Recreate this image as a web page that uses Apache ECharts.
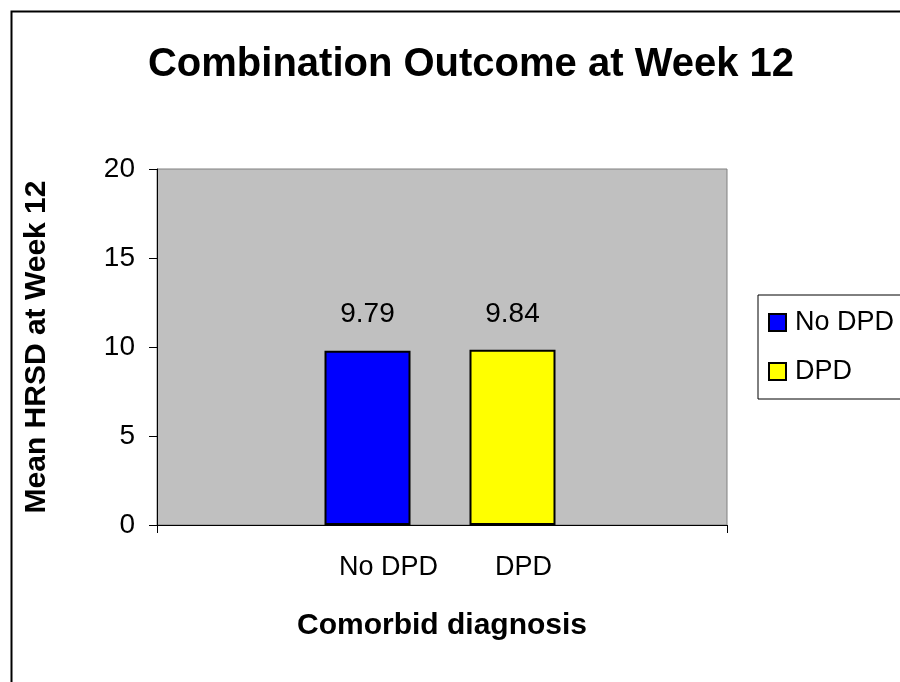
<!DOCTYPE html>
<html>
<head>
<meta charset="utf-8">
<script src="https://cdn.jsdelivr.net/npm/echarts@6/dist/echarts.min.js"></script>
<style>html,body{margin:0;padding:0;background:#fff}#c{width:900px;height:682px}</style>
</head>
<body>
<div id="c"></div>
<script>
var categories = ['No DPD', 'DPD'];
var seriesNames = ['No DPD', 'DPD'];
var noDpdValues = [9.79, '-'];
var dpdValues = ['-', 9.84];
var yTicks = [0, 5, 10, 15, 20];
var FONT = '"Liberation Sans", Arial, sans-serif';
var labelShift = [42, 22];

var chart = echarts.init(document.getElementById('c'));
chart.setOption({
  animation: false,
  textStyle: { fontFamily: FONT },
  graphic: [{
    type: 'rect', left: 9, top: 9, z: 100,
    shape: { x: 0, y: 0, width: 1000, height: 1000 },
    style: { fill: 'none', stroke: '#000', lineWidth: 2 }
  }],
  title: {
    text: 'Combination Outcome at Week 12',
    left: 466, textAlign: 'center', top: 40,
    textStyle: { fontFamily: FONT, fontWeight: 'bold', fontSize: 40, color: '#000' }
  },
  legend: {
    data: seriesNames,
    orient: 'vertical',
    left: 758, top: 295,
    padding: [14, 40, 14, 10],
    itemWidth: 17, itemHeight: 17, itemGap: 22,
    icon: 'rect',
    borderColor: '#000', borderWidth: 1,
    backgroundColor: '#fff',
    textStyle: { fontFamily: FONT, fontSize: 27, color: '#000', padding: [0, 0, 0, 4] }
  },
  grid: [
    { left: 157, right: 173, top: 169, bottom: 157, show: true, backgroundColor: '#C0C0C0', borderColor: '#808080', borderWidth: 1 },
    { left: 295, right: 315, top: 169, bottom: 157 }
  ],
  xAxis: [
    {
      gridIndex: 0, type: 'category', data: [''],
      name: 'Comorbid diagnosis', nameLocation: 'middle', nameGap: 86,
      nameTextStyle: { fontFamily: FONT, fontWeight: 'bold', fontSize: 30, color: '#000' },
      axisLine: { lineStyle: { color: '#000', width: 1 } },
      axisTick: { show: true, length: 8, lineStyle: { color: '#000' } },
      axisLabel: { show: false }
    },
    {
      gridIndex: 1, type: 'category',
      data: categories.map(function (c, i) {
        return { value: c, textStyle: { padding: [0, 0, 0, labelShift[i]] } };
      }),
      axisLine: { show: false }, axisTick: { show: false },
      axisLabel: { fontFamily: FONT, fontSize: 27, color: '#000', margin: 29 }
    }
  ],
  yAxis: [
    {
      gridIndex: 0, type: 'value', min: 0, max: 20, interval: 5,
      name: 'Mean HRSD at Week 12', nameLocation: 'middle', nameGap: 105,
      nameTextStyle: { fontFamily: FONT, fontWeight: 'bold', fontSize: 30, color: '#000' },
      axisLine: { show: true, lineStyle: { color: '#000', width: 1 } },
      axisTick: { show: true, length: 8, lineStyle: { color: '#000' } },
      axisLabel: { fontFamily: FONT, fontSize: 28, color: '#000', margin: 22,
        formatter: function (v) { return yTicks.indexOf(v) >= 0 ? String(v) : ''; } },
      splitLine: { show: false }
    },
    {
      gridIndex: 1, type: 'value', min: 0, max: 20, interval: 5, show: false
    }
  ],
  series: [
    {
      name: seriesNames[0], type: 'bar', xAxisIndex: 1, yAxisIndex: 1,
      data: noDpdValues, barWidth: 86, barGap: '-100%',
      itemStyle: { color: '#0000FF', borderColor: '#000', borderWidth: 2 },
      label: { show: true, position: 'top', distance: 22, fontFamily: FONT, fontSize: 28, color: '#000',
        formatter: function (p) { return p.value.toFixed(2); } }
    },
    {
      name: seriesNames[1], type: 'bar', xAxisIndex: 1, yAxisIndex: 1,
      data: dpdValues, barWidth: 86, barGap: '-100%',
      itemStyle: { color: '#FFFF00', borderColor: '#000', borderWidth: 2 },
      label: { show: true, position: 'top', distance: 22, fontFamily: FONT, fontSize: 28, color: '#000',
        formatter: function (p) { return p.value.toFixed(2); } }
    }
  ]
});
</script>
</body>
</html>
